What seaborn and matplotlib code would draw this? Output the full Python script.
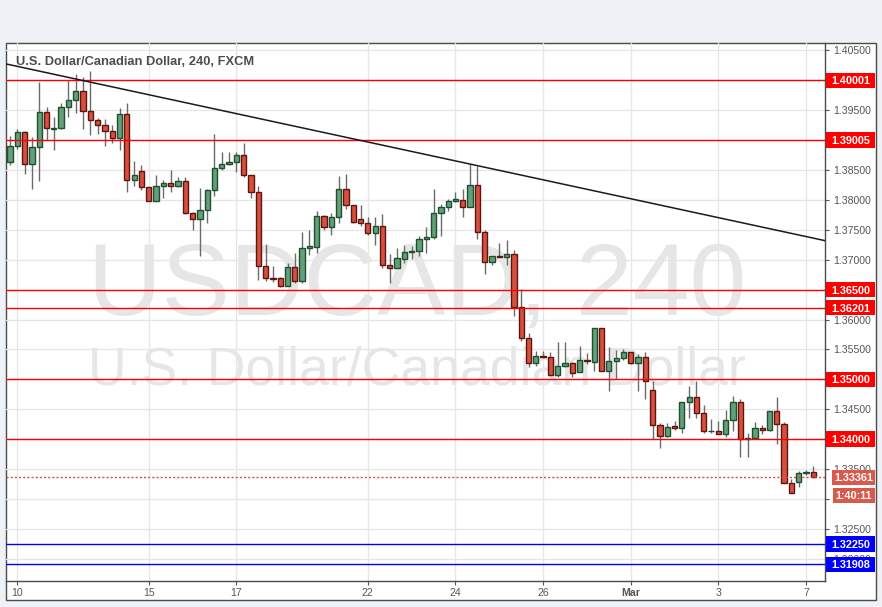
import matplotlib
matplotlib.use("Agg")
import matplotlib.pyplot as plt
import matplotlib.transforms as mtransforms
from matplotlib.patches import Rectangle
import numpy as np
import pandas as pd
import seaborn as sns

# ---------------- data (4h candles, USD/CAD) ----------------
opens = [1.3863, 1.3891, 1.3914, 1.3860, 1.3888, 1.3947, 1.3919, 1.3920, 1.3955, 1.3967,
         1.3983, 1.3948, 1.3933, 1.3925, 1.3916, 1.3903, 1.3943, 1.3833, 1.3848, 1.3821,
         1.3799, 1.3824, 1.3828, 1.3824, 1.3831, 1.3779, 1.3769, 1.3784, 1.3816, 1.3853,
         1.3861, 1.3863, 1.3875, 1.3841, 1.3814, 1.3689, 1.3669, 1.3669, 1.3657, 1.3688,
         1.3664, 1.3719, 1.3722, 1.3773, 1.3754, 1.3771, 1.3818, 1.3791, 1.3768, 1.3761,
         1.3744, 1.3757, 1.3691, 1.3686, 1.3702, 1.3713, 1.3714, 1.3734, 1.3738, 1.3779,
         1.3789, 1.3799, 1.3800, 1.3789, 1.3825, 1.3746, 1.3697, 1.3706, 1.3705, 1.3709,
         1.3621, 1.3569, 1.3527, 1.3539, 1.3538, 1.3507, 1.3523, 1.3527, 1.3513, 1.3532,
         1.3529, 1.3586, 1.3514, 1.3530, 1.3535, 1.3545, 1.3527, 1.3537, 1.3482, 1.3423,
         1.3405, 1.3422, 1.3418, 1.3462, 1.3470, 1.3443, 1.3413, 1.3414, 1.3408, 1.3432,
         1.3463, 1.3400, 1.3402, 1.3418, 1.3415, 1.3447, 1.3425, 1.3327, 1.3328, 1.3343,
         1.3345]
highs = [1.3907, 1.3919, 1.3916, 1.3905, 1.3997, 1.3955, 1.3938, 1.3962, 1.4000, 1.4010,
         1.4005, 1.4016, 1.3937, 1.3935, 1.3925, 1.3953, 1.3963, 1.3865, 1.3858, 1.3822,
         1.3841, 1.3834, 1.3850, 1.3838, 1.3838, 1.3780, 1.3820, 1.3819, 1.3911, 1.3881,
         1.3880, 1.3880, 1.3896, 1.3842, 1.3823, 1.3727, 1.3690, 1.3672, 1.3694, 1.3711,
         1.3747, 1.3750, 1.3782, 1.3775, 1.3779, 1.3840, 1.3844, 1.3791, 1.3791, 1.3772,
         1.3772, 1.3777, 1.3709, 1.3719, 1.3725, 1.3723, 1.3740, 1.3754, 1.3819, 1.3794,
         1.3802, 1.3813, 1.3818, 1.3860, 1.3857, 1.3749, 1.3706, 1.3728, 1.3733, 1.3717,
         1.3651, 1.3578, 1.3548, 1.3548, 1.3545, 1.3562, 1.3562, 1.3529, 1.3556, 1.3544,
         1.3586, 1.3586, 1.3554, 1.3549, 1.3551, 1.3545, 1.3543, 1.3545, 1.3498, 1.3427,
         1.3427, 1.3430, 1.3463, 1.3489, 1.3497, 1.3457, 1.3433, 1.3431, 1.3449, 1.3472,
         1.3467, 1.3411, 1.3428, 1.3424, 1.3447, 1.3471, 1.3428, 1.3334, 1.3346, 1.3349,
         1.3356]
lows = [1.3858, 1.3885, 1.3844, 1.3819, 1.3832, 1.3900, 1.3883, 1.3918, 1.3938, 1.3945,
        1.3918, 1.3908, 1.3911, 1.3890, 1.3895, 1.3883, 1.3813, 1.3824, 1.3816, 1.3798,
        1.3798, 1.3804, 1.3813, 1.3822, 1.3776, 1.3749, 1.3706, 1.3762, 1.3806, 1.3850,
        1.3858, 1.3846, 1.3838, 1.3804, 1.3667, 1.3665, 1.3663, 1.3654, 1.3656, 1.3661,
        1.3662, 1.3708, 1.3712, 1.3749, 1.3742, 1.3761, 1.3785, 1.3762, 1.3757, 1.3741,
        1.3724, 1.3687, 1.3662, 1.3686, 1.3694, 1.3702, 1.3706, 1.3711, 1.3735, 1.3739,
        1.3782, 1.3796, 1.3771, 1.3789, 1.3735, 1.3677, 1.3692, 1.3705, 1.3691, 1.3606,
        1.3564, 1.3520, 1.3522, 1.3535, 1.3506, 1.3504, 1.3520, 1.3504, 1.3513, 1.3525,
        1.3514, 1.3514, 1.3481, 1.3500, 1.3533, 1.3526, 1.3481, 1.3468, 1.3400, 1.3386,
        1.3403, 1.3415, 1.3410, 1.3436, 1.3435, 1.3410, 1.3410, 1.3408, 1.3404, 1.3413,
        1.3371, 1.3371, 1.3400, 1.3408, 1.3413, 1.3392, 1.3326, 1.3310, 1.3320, 1.3340,
        1.3336]
closes = [1.3891, 1.3914, 1.3860, 1.3888, 1.3947, 1.3920, 1.3920, 1.3955, 1.3967, 1.3983,
          1.3948, 1.3933, 1.3925, 1.3916, 1.3903, 1.3943, 1.3833, 1.3841, 1.3821, 1.3799,
          1.3824, 1.3828, 1.3824, 1.3831, 1.3779, 1.3769, 1.3784, 1.3816, 1.3853, 1.3861,
          1.3863, 1.3875, 1.3841, 1.3814, 1.3689, 1.3669, 1.3668, 1.3657, 1.3688, 1.3664,
          1.3719, 1.3723, 1.3773, 1.3754, 1.3771, 1.3818, 1.3791, 1.3764, 1.3761, 1.3744,
          1.3757, 1.3691, 1.3686, 1.3703, 1.3713, 1.3715, 1.3734, 1.3738, 1.3779, 1.3789,
          1.3799, 1.3801, 1.3789, 1.3825, 1.3746, 1.3697, 1.3706, 1.3705, 1.3709, 1.3621,
          1.3569, 1.3527, 1.3539, 1.3538, 1.3507, 1.3523, 1.3527, 1.3510, 1.3532, 1.3531,
          1.3586, 1.3514, 1.3530, 1.3535, 1.3545, 1.3527, 1.3537, 1.3498, 1.3423, 1.3405,
          1.3421, 1.3418, 1.3462, 1.3470, 1.3443, 1.3413, 1.3414, 1.3408, 1.3432, 1.3463,
          1.3400, 1.3402, 1.3418, 1.3415, 1.3447, 1.3425, 1.3327, 1.3310, 1.3343, 1.3345,
          1.3336]

date_tick_pos = [1, 19, 31, 49, 61, 73, 85, 97, 109]
date_tick_labels = ["10", "15", "17", "22", "24", "26", "Mar", "3", "7"]

red_levels = [1.40001, 1.39005, 1.36500, 1.36201, 1.35000, 1.34000]
blue_levels = [1.32250, 1.31908]
current_price = 1.33361
countdown = "1:40:11"

trend_x = [-0.507, 111.64]
trend_y = [1.40274, 1.37319]

price_ticks = [round(1.320 + 0.005 * k, 3) for k in range(18)]
hidden_tick_labels = [1.400, 1.390, 1.365, 1.350, 1.340, 1.330]

title = "U.S. Dollar/Canadian Dollar, 240, FXCM"
wm_big = "USDCAD, 240"
wm_small = "U.S. Dollar/Canadian Dollar"

# ---------------- figure ----------------
sns.set_theme(style="white")
plt.rcParams["font.family"] = ["Liberation Sans", "DejaVu Sans"]

W, H = 882, 607
fig = plt.figure(figsize=(W / 100, H / 100), dpi=100)
fig.patch.set_facecolor("#eef2f6")

# white chart panel with frame (behind the axes)
L, R, T, B = 6.3, 875.5, 43.3, 600.0
fig.patches.append(Rectangle((L / W, 1 - B / H), (R - L) / W, (B - T) / H,
                             transform=fig.transFigure, facecolor="white",
                             edgecolor="#4a4a4a", linewidth=1.0, zorder=-5))

ax_l, ax_r, ax_t, ax_b = 6.3, 825.3, 43.3, 581.3
ax = fig.add_axes([ax_l / W, 1 - ax_b / H, (ax_r - ax_l) / W, (ax_b - ax_t) / H])
ax.set_zorder(1)
ax.set_facecolor("none")

df = pd.DataFrame({"o": opens, "h": highs, "l": lows, "c": closes})
df["idx"] = np.arange(len(df))
up = df["c"] >= df["o"]
body_lo = np.minimum(df["o"], df["c"])
body_h = np.maximum(np.abs(df["c"] - df["o"]), 0.00004)

# grid
ax.set_axisbelow(True)
ax.grid(True, color="#e6e6e6", linewidth=1.0)

# watermarks
ax.text(0.5015, 0.495, wm_big, transform=ax.transAxes, ha="center", va="baseline",
        fontsize=73.5, color="#e6e6e6", zorder=0.2)
ax.text(0.5015, 0.365, wm_small, transform=ax.transAxes, ha="center", va="baseline",
        fontsize=38.5, color="#e6e6e6", zorder=0.2)

# candles
ax.vlines(df["idx"], df["l"], df["h"], color="#6b6b6b", linewidth=1.0, zorder=3)
ax.bar(df["idx"], body_h, bottom=body_lo, width=0.72,
       color=np.where(up, "#63a07a", "#d6503f"),
       edgecolor=np.where(up, "#1e4f2f", "#5e1510"), linewidth=1.0, zorder=4)

# levels
for lv in red_levels:
    ax.axhline(lv, color="#ff0000", linewidth=1.0, zorder=5)
for lv in blue_levels:
    ax.axhline(lv, color="#0000ff", linewidth=1.0, zorder=5)
ax.axhline(current_price, color="#d6503f", linewidth=1.0, linestyle=(0, (1.5, 1.5)), zorder=5)

# trend line
sns.lineplot(x=trend_x, y=trend_y, ax=ax, color="#1a1a1a", linewidth=1.1, zorder=6)

ax.set_xlim(-0.507, 111.64)
ax.set_ylim(1.31624, 1.40620)

# axes styling
for side in ["left", "top"]:
    ax.spines[side].set_visible(False)
for side in ["right", "bottom"]:
    ax.spines[side].set_visible(True)
    ax.spines[side].set_color("#4a4a4a")
    ax.spines[side].set_linewidth(1.0)

ax.yaxis.tick_right()
ax.set_yticks(price_ticks)
ax.set_yticklabels(["" if any(abs(v - h) < 1e-9 for h in hidden_tick_labels) else f"{v:.5f}"
                    for v in price_ticks])
ax.tick_params(axis="y", which="both", direction="out", length=3, width=0.8, color="#555555",
               labelsize=7.6, labelcolor="#555555", pad=2.5, right=True, left=False)
ax.set_xticks(date_tick_pos)
ax.set_xticklabels(date_tick_labels)
ax.tick_params(axis="x", direction="out", length=3, width=0.8, color="#555555",
               labelsize=7.6, labelcolor="#555555", pad=2.0, bottom=True)
for lbl in ax.get_xticklabels():
    if lbl.get_text() == "Mar":
        lbl.set_fontweight("bold")
ax.set_xlabel("")
ax.set_ylabel("")

# price label boxes on the right
px_per_unit = (ax_b - ax_t) / (1.40620 - 1.31624)
ax_w_px = ax_r - ax_l
blend = mtransforms.blended_transform_factory(ax.transAxes, ax.transData)


def price_box(value, text, color, x0_px, x1_px, h_px=15.6, yc=None):
    yc = value if yc is None else yc
    h = h_px / px_per_unit
    x0 = (x0_px - ax_l) / ax_w_px
    x1 = (x1_px - ax_l) / ax_w_px
    ax.add_patch(Rectangle((x0, yc - h / 2), x1 - x0, h, transform=blend,
                           facecolor=color, edgecolor="none", clip_on=False, zorder=10))
    ax.text((x0 + x1) / 2, yc, text, transform=blend, ha="center", va="center_baseline",
            color="white", fontsize=7.8, fontweight="bold", clip_on=False, zorder=11)


for lv in red_levels:
    price_box(lv, f"{lv:.5f}", "#ff0000", 825.8, 875.0)
for lv in blue_levels:
    price_box(lv, f"{lv:.5f}", "#0000ff", 825.8, 875.0)
price_box(current_price, f"{current_price:.5f}", "#d9594c", 831.7, 875.0)
price_box(current_price, countdown, "#d9594c", 832.7, 875.0, h_px=14.7,
          yc=current_price - 17.8 / px_per_unit)

# title
fig.text(16 / W, 1 - 65 / H, title, ha="left", va="baseline", fontsize=9.3,
         fontweight="bold", color="#4d4d4d", zorder=3)

fig.savefig("out.png", dpi=100, facecolor=fig.get_facecolor())
